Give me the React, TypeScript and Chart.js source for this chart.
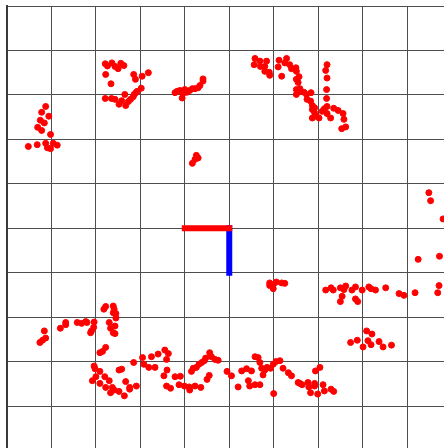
import React, { useEffect, useRef } from "react";
import { Chart, registerables } from "chart.js";

Chart.register(...registerables);

// Axis range (metres) and grid step
const axisMin = -5;
const axisMax = 5;
const gridStep = 1;

// Robot heading indicators: [x, y] endpoints
const headingRed: [number, number][] = [[-1, 0], [0, 0]];
const headingBlue: [number, number][] = [[0, 0], [0, -1]];

// Laser scan points, grouped by cluster: [x, y]
const clusterTopLeft: [number, number][] = [
  [-2.79, 3.70], [-2.74, 3.65], [-2.64, 3.72], [-2.57, 3.64], [-2.50, 3.59], [-2.44, 3.71], [-2.37, 3.66],
  [-2.78, 3.46], [-2.15, 3.46], [-2.11, 3.35], [-1.96, 3.42], [-1.82, 3.50], [-2.66, 3.25], [-1.98, 3.15],
  [-2.07, 3.08], [-2.10, 3.05], [-2.35, 3.01], [-2.79, 2.92], [-2.65, 2.92], [-2.57, 2.90], [-2.48, 2.79],
  [-2.42, 2.87], [-2.33, 2.76], [-2.27, 2.85], [-2.22, 2.90], [-2.16, 2.96], [-2.14, 3.01],
];
const clusterLeft: [number, number][] = [
  [-4.13, 2.74], [-4.22, 2.61], [-4.06, 2.52], [-4.25, 2.43], [-4.16, 2.37], [-4.31, 2.27], [-4.22, 2.20],
  [-4.02, 2.11], [-4.13, 1.91], [-3.96, 1.91], [-3.87, 1.87], [-4.52, 1.84], [-4.32, 1.88], [-4.09, 1.81],
  [-4.02, 1.79],
];
const clusterTopCenter: [number, number][] = [
  [-1.22, 3.05], [-1.17, 3.08], [-1.11, 3.10], [-1.06, 2.93], [-1.04, 3.03], [-1.00, 3.12], [-0.95, 3.06],
  [-0.89, 3.10], [-0.83, 3.14], [-0.77, 3.14], [-0.70, 3.16], [-0.66, 3.21], [-0.59, 3.31], [-0.59, 3.36],
];
const clusterTopRight: [number, number][] = [
  [0.58, 3.82], [0.56, 3.68], [0.69, 3.76], [0.70, 3.64], [0.84, 3.76], [0.80, 3.64], [0.80, 3.53],
  [0.90, 3.51], [0.91, 3.44], [1.12, 3.78], [1.10, 3.63], [1.29, 3.82], [1.25, 3.72], [1.36, 3.68],
  [1.40, 3.59], [1.50, 3.61], [1.51, 3.53], [1.18, 3.42], [1.51, 3.35], [1.55, 3.28], [1.51, 3.12],
  [1.51, 3.01], [1.57, 3.41], [1.59, 3.14], [1.60, 3.08], [1.68, 3.06], [1.74, 3.01], [1.84, 3.05],
  [1.75, 2.90], [1.83, 2.86], [1.87, 2.76], [1.92, 2.71], [1.87, 2.67], [1.92, 2.60], [1.87, 2.48],
  [1.96, 2.52], [2.02, 2.48], [2.09, 2.63], [2.14, 2.69], [2.20, 2.74], [2.20, 2.58], [2.28, 2.48],
  [2.35, 2.70], [2.45, 2.65], [2.56, 2.58], [2.58, 2.45], [2.62, 2.28], [2.53, 2.24], [2.20, 3.68],
  [2.17, 3.55], [2.20, 3.38], [2.19, 3.12], [2.19, 2.92],
];
const clusterMiddle: [number, number][] = [
  [-0.74, 1.64], [-0.70, 1.58], [-0.77, 1.55], [-0.83, 1.46],
  [0.91, -1.23], [0.99, -1.27], [1.06, -1.21], [1.18, -1.23], [1.25, -1.24], [0.99, -1.36], [0.91, -1.29],
];
const clusterRight: [number, number][] = [
  [4.49, 0.80], [4.53, 0.62], [4.81, 0.21], [4.25, -0.70], [4.73, -0.63],
  [2.17, -1.39], [2.29, -1.34], [2.34, -1.39], [2.50, -1.34], [2.58, -1.38], [2.62, -1.30], [2.54, -1.53],
  [2.76, -1.39], [2.84, -1.32], [2.84, -1.59], [2.99, -1.39], [3.14, -1.32], [3.19, -1.36], [3.29, -1.39],
  [3.52, -1.34], [3.82, -1.47], [3.93, -1.51], [4.18, -1.45], [4.72, -1.29], [4.69, -1.45],
  [2.50, -1.65], [2.89, -1.65],
  [3.09, -2.31], [3.21, -2.38], [2.73, -2.57], [2.88, -2.52], [3.12, -2.53], [3.19, -2.62], [3.01, -2.67],
  [3.37, -2.55], [3.46, -2.67], [3.65, -2.63],
];
const clusterBottomRight: [number, number][] = [
  [2.04, -3.13], [1.94, -3.21], [1.59, -3.49], [1.64, -3.52], [1.77, -3.47], [1.79, -3.57], [1.92, -3.49],
  [1.92, -3.55], [2.11, -3.52], [1.83, -3.70], [1.99, -3.73], [2.14, -3.66], [2.29, -3.62], [2.35, -3.67],
];
const clusterBottomLeft: [number, number][] = [
  [-2.82, -1.82], [-2.78, -1.76], [-2.61, -1.75], [-2.59, -1.82], [-2.61, -1.90], [-2.55, -1.92],
  [-2.55, -2.02], [-2.70, -2.12], [-2.57, -2.20], [-2.67, -2.25], [-2.61, -2.35], [-2.57, -2.37],
  [-3.68, -2.12], [-3.68, -2.17], [-3.80, -2.25], [-3.42, -2.12], [-3.32, -2.14], [-3.23, -2.10],
  [-3.20, -2.12], [-3.04, -2.11], [-3.05, -2.23], [-3.10, -2.31], [-3.12, -2.35], [-4.16, -2.31],
  [-4.13, -2.47], [-4.20, -2.52], [-4.26, -2.57], [-2.91, -2.80], [-2.85, -2.77], [-2.78, -2.68],
  [-3.04, -3.10], [-3.02, -3.16], [-2.91, -3.22], [-3.00, -3.34], [-2.80, -3.34], [-2.70, -3.43],
  [-3.08, -3.43], [-2.91, -3.49], [-2.78, -3.58], [-2.63, -3.58], [-2.67, -3.70], [-2.59, -3.64],
  [-2.48, -3.67], [-2.36, -3.77], [-2.48, -3.19], [-2.42, -3.17], [-2.33, -3.45], [-2.24, -3.58],
  [-2.24, -3.62], [-2.09, -3.55], [-2.15, -3.02], [-1.95, -2.91], [-1.92, -3.06], [-1.81, -3.13],
];
const clusterBottomCenter: [number, number][] = [
  [-1.75, -2.89], [-1.60, -2.83], [-1.45, -2.74], [-1.37, -2.82], [-1.41, -2.95], [-1.67, -3.13],
  [-1.40, -3.19], [-1.47, -3.32], [-1.22, -3.34], [-1.10, -3.33], [-1.41, -3.55], [-1.32, -3.60],
  [-1.13, -3.52], [-1.01, -3.55], [-0.90, -3.57], [-0.89, -3.64], [-0.77, -3.55], [-0.64, -3.58],
  [-0.85, -3.22], [-0.81, -3.15], [-0.74, -3.13], [-0.68, -3.06], [-0.62, -3.02], [-0.56, -2.98],
  [-0.53, -2.92], [-0.44, -2.80], [-0.40, -2.89], [-0.32, -2.95], [-0.25, -2.97], [-0.45, -3.31],
  [-0.50, -3.40], [-0.05, -3.22], [0.05, -3.32], [0.20, -3.57], [0.28, -3.21], [0.39, -3.16],
  [0.43, -3.43], [0.46, -3.55], [0.58, -3.52], [0.69, -3.52], [0.50, -3.21], [0.58, -2.89],
  [0.65, -2.91], [0.69, -3.02], [0.73, -3.15], [0.80, -3.19], [0.76, -3.30], [0.85, -3.13],
  [0.93, -3.15], [0.99, -3.06], [1.05, -3.00], [1.14, -2.98], [1.00, -3.72], [1.21, -3.15],
  [1.33, -3.25], [1.40, -3.32], [1.55, -3.47],
];

const scanPoints: [number, number][] = [
  ...clusterTopLeft, ...clusterLeft, ...clusterTopCenter, ...clusterTopRight, ...clusterMiddle,
  ...clusterRight, ...clusterBottomRight, ...clusterBottomLeft, ...clusterBottomCenter,
];

const toXY = (pts: [number, number][]) => pts.map(([x, y]) => ({ x, y }));

export default function App() {
  const canvasRef = useRef<HTMLCanvasElement | null>(null);

  useEffect(() => {
    if (!canvasRef.current) return;
    const chart = new Chart(canvasRef.current, {
      type: "scatter",
      data: {
        datasets: [
          {
            label: "heading-red",
            data: toXY(headingRed),
            showLine: true,
            borderColor: "#ff0000",
            borderWidth: 6,
            borderCapStyle: "square",
            pointRadius: 0,
            order: 0,
          },
          {
            label: "heading-blue",
            data: toXY(headingBlue),
            showLine: true,
            borderColor: "#0000ff",
            borderWidth: 6,
            borderCapStyle: "square",
            pointRadius: 0,
            order: 1,
          },
          {
            label: "scan",
            data: toXY(scanPoints),
            backgroundColor: "#ff0000",
            borderColor: "#ff0000",
            borderWidth: 1,
            pointRadius: 3,
            order: 2,
          },
        ],
      },
      options: {
        animation: false,
        responsive: false,
        layout: { padding: { left: 7, top: 6, right: 8.5, bottom: 9.5 } },
        plugins: { legend: { display: false }, tooltip: { enabled: false } },
        scales: {
          x: {
            type: "linear",
            min: axisMin,
            max: axisMax,
            ticks: { display: false, stepSize: gridStep },
            grid: { color: "#4e4e4e", lineWidth: 1, drawTicks: false },
            border: { display: true, color: "#3a3a3a", width: 2 },
          },
          y: {
            type: "linear",
            min: axisMin,
            max: axisMax,
            ticks: { display: false, stepSize: gridStep },
            grid: { color: "#4e4e4e", lineWidth: 1, drawTicks: false },
            border: { display: true, color: "#3a3a3a", width: 2 },
          },
        },
      },
    });
    return () => chart.destroy();
  }, []);

  return (
    <div style={{ position: "absolute", left: 0, top: 0, width: 444, height: 448, overflow: "hidden", background: "#fff" }}>
      <canvas ref={canvasRef} width={460} height={460} style={{ display: "block", width: 460, height: 460 }} />
    </div>
  );
}
